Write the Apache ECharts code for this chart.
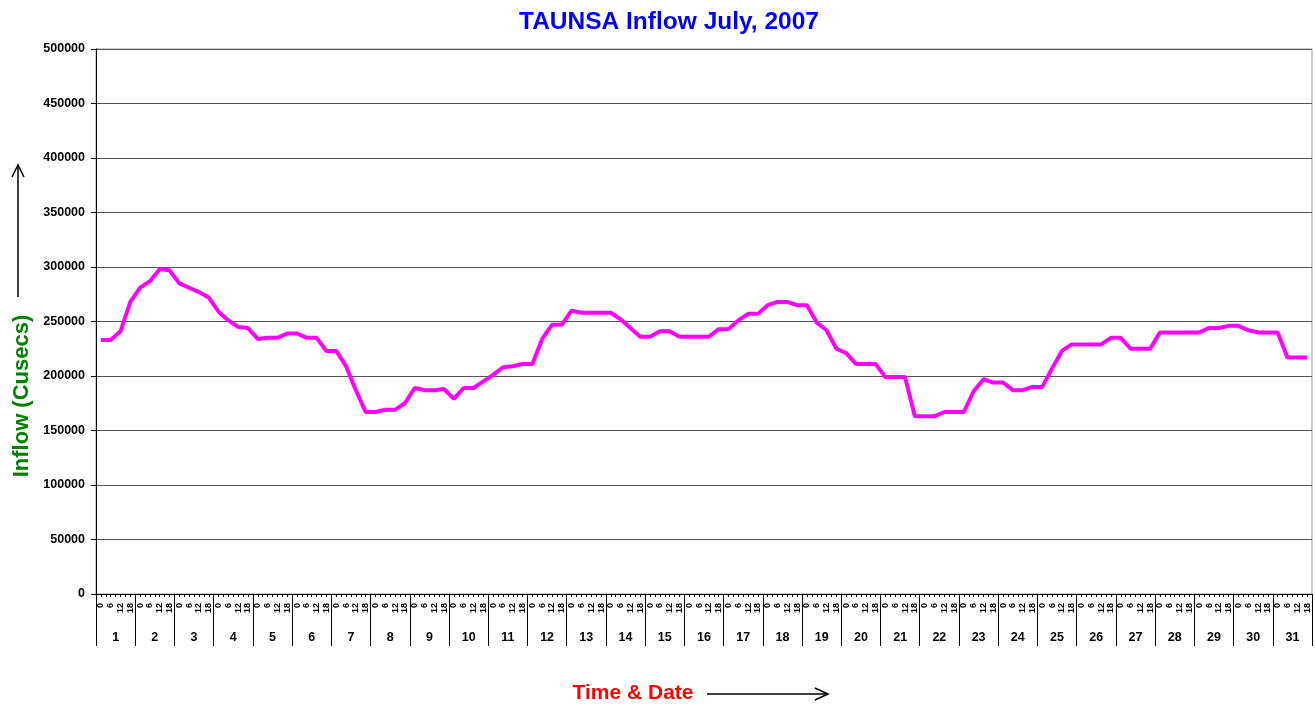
<!DOCTYPE html>
<html>
<head>
<meta charset="utf-8">
<title>TAUNSA Inflow July, 2007</title>
<script src="https://cdn.jsdelivr.net/npm/echarts@6/dist/echarts.min.js"></script>
<style>
  html, body { margin: 0; padding: 0; background: #fff; }
  #chart { width: 1315px; height: 706px; }
</style>
</head>
<body>
<div id="chart"></div>
<script>
// days of July and the four readings per day
const days = Array.from({ length: 31 }, (_, i) => String(i + 1));
const hours = ['0', '6', '12', '18'];

// inflow in cusecs, 4 readings a day (0, 6, 12, 18 hrs)
const inflow = [
  233000, 233000, 241000, 268000, 281000, 287000, 298000, 297000,
  285000, 281000, 277000, 272000, 259000, 251000, 245000, 244000,
  234000, 235000, 235000, 239000, 239000, 235000, 235000, 223000,
  223000, 209000, 187000, 167000, 167000, 169000, 169000, 175000,
  189000, 187000, 187000, 188000, 179000, 189000, 189000, 195000,
  201000, 208000, 209000, 211000, 211000, 234000, 247000, 247000,
  260000, 258000, 258000, 258000, 258000, 252000, 244000, 236000,
  236000, 241000, 241000, 236000, 236000, 236000, 236000, 243000,
  243000, 251000, 257000, 257000, 265000, 268000, 268000, 265000,
  265000, 249000, 242000, 225000, 221000, 211000, 211000, 211000,
  199000, 199000, 199000, 163000, 163000, 163000, 167000, 167000,
  167000, 186000, 197000, 194000, 194000, 187000, 187000, 190000,
  190000, 207000, 223000, 229000, 229000, 229000, 229000, 235000,
  235000, 225000, 225000, 225000, 240000, 240000, 240000, 240000,
  240000, 244000, 244000, 246000, 246000, 242000, 240000, 240000,
  240000, 217000, 217000, 217000
];

const yMin = 0;
const yMax = 500000;
const yStep = 50000;

// one category per reading, labelled with its hour
const hourLabels = [];
days.forEach(() => hours.forEach(h => hourLabels.push(h)));
// half-slot categories, only used to draw the small ticks
const halfSlots = hourLabels.flatMap((h, i) => ['a' + i, 'b' + i]);

const chart = echarts.init(document.getElementById('chart'));

const hiddenLine = { show: true, lineStyle: { color: '#000', opacity: 0 } };

const option = {
  backgroundColor: '#fff',
  animation: false,
  textStyle: { fontFamily: 'Liberation Sans, Arial, sans-serif' },
  title: {
    text: 'TAUNSA Inflow July, 2007',
    left: 514,
    top: 5,
    textStyle: { color: '#0000ff', fontSize: 24.5, fontWeight: 'bold' }
  },
  grid: {
    left: 96,
    right: 3,
    top: 49,
    bottom: 112,
    show: true,
    borderColor: '#999',
    borderWidth: 1
  },
  xAxis: [
    {
      type: 'category',
      data: hourLabels,
      position: 'bottom',
      axisLine: { show: true, lineStyle: { color: '#000', width: 1 } },
      axisTick: { show: false },
      axisLabel: {
        interval: 0,
        rotate: 90,
        margin: 9,
        fontSize: 9,
        fontWeight: 'bold',
        color: '#000'
      }
    },
    {
      type: 'category',
      data: halfSlots,
      position: 'bottom',
      axisLine: hiddenLine,
      axisTick: { show: true, interval: 0, length: 3, lineStyle: { color: '#000' } },
      axisLabel: { show: false, interval: 0 }
    },
    {
      type: 'category',
      data: days,
      position: 'bottom',
      axisLine: hiddenLine,
      axisTick: { show: true, interval: 0, length: 52, lineStyle: { color: '#000' } },
      axisLabel: {
        interval: 0,
        margin: 37,
        fontSize: 12.5,
        fontWeight: 'bold',
        color: '#000'
      }
    }
  ],
  yAxis: {
    type: 'value',
    min: yMin,
    max: yMax,
    interval: yStep,
    axisLine: { show: true, lineStyle: { color: '#000', width: 1 } },
    axisTick: { show: true, length: 5, lineStyle: { color: '#000' } },
    axisLabel: {
      margin: 11,
      fontSize: 12.5,
      fontWeight: 'bold',
      color: '#000',
      formatter: v => String(v)
    },
    splitLine: { show: true, lineStyle: { color: '#555', width: 1 } }
  },
  graphic: [
    {
      type: 'text',
      rotation: Math.PI / 2,
      x: 22,
      y: 396,
      style: {
        text: 'Inflow (Cusecs)',
        fill: '#008000',
        font: 'bold 22px "Liberation Sans", Arial, sans-serif',
        align: 'center',
        verticalAlign: 'middle'
      }
    },
    {
      type: 'polyline',
      shape: { points: [[18, 297], [18, 165]] },
      style: { stroke: '#000', lineWidth: 1.5, fill: null }
    },
    {
      type: 'polyline',
      shape: { points: [[12, 177], [18, 165], [24, 177]] },
      style: { stroke: '#000', lineWidth: 1.5, fill: null }
    },
    {
      type: 'text',
      x: 633,
      y: 693,
      style: {
        text: 'Time & Date',
        fill: '#ff0000',
        font: 'bold 21px "Liberation Sans", Arial, sans-serif',
        align: 'center',
        verticalAlign: 'middle'
      }
    },
    {
      type: 'polyline',
      shape: { points: [[707, 694], [828, 694]] },
      style: { stroke: '#000', lineWidth: 1.5, fill: null }
    },
    {
      type: 'polyline',
      shape: { points: [[815, 688], [828, 694], [815, 700]] },
      style: { stroke: '#000', lineWidth: 1.5, fill: null }
    }
  ],
  series: [
    {
      name: 'Inflow',
      type: 'line',
      xAxisIndex: 0,
      data: inflow,
      symbol: 'none',
      lineStyle: { color: '#ff00ff', width: 4 },
      itemStyle: { color: '#ff00ff' }
    }
  ]
};

chart.setOption(option);
</script>
</body>
</html>
